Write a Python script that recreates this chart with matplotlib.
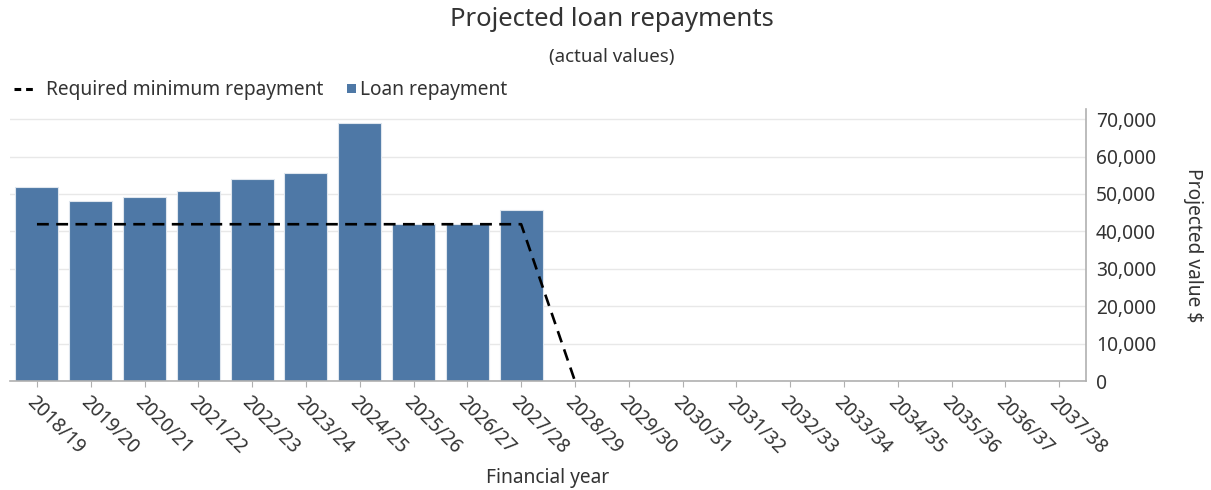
import matplotlib.pyplot as plt
import matplotlib.ticker as mticker
from matplotlib.legend_handler import HandlerPatch
from matplotlib.lines import Line2D
from matplotlib.patches import Patch, Rectangle
import numpy as np

plt.rcParams["font.family"] = ["Noto Sans", "DejaVu Sans"]

years = ["2018/19", "2019/20", "2020/21", "2021/22", "2022/23", "2023/24",
         "2024/25", "2025/26", "2026/27", "2027/28", "2028/29", "2029/30",
         "2030/31", "2031/32", "2032/33", "2033/34", "2034/35", "2035/36",
         "2036/37", "2037/38"]
loan_repayment = [51900, 48100, 49200, 50800, 54000, 55700, 69000, 41900,
                  41900, 45700, 0, 0, 0, 0, 0, 0, 0, 0, 0, 0]
required_minimum = [41900, 41900, 41900, 41900, 41900, 41900, 41900, 41900,
                    41900, 41900, 0, 0, 0, 0, 0, 0, 0, 0, 0, 0]

bar_color = "#4e78a6"
text_color = "#333333"
axis_color = "#b0b0b0"


def small_square(legend, orig_handle, xdescent, ydescent, width, height, fontsize):
    # little square swatch tucked against the label, not a full-width box
    s = 6.5
    return Rectangle((width - s - xdescent + 3.5, (height - s) / 2 - ydescent), s, s)


fig = plt.figure(figsize=(12.11, 4.9), dpi=100)
ax = fig.add_axes([0.0083, 0.2224, 0.8885, 0.5552])

x = np.arange(len(years))
ax.bar(x, loan_repayment, width=0.8, color=bar_color, edgecolor="#dfe6ee",
       linewidth=0.8, zorder=2)

# the zero stretch after the drop sits on the axis line, so leave it out
req = np.array(required_minimum, dtype=float)
flat_zero = np.r_[False, (req[1:] == 0) & (req[:-1] == 0)]
ax.plot(x, np.ma.masked_where(flat_zero, req), color="black",
        linestyle=(0, (4.5, 2.8)), linewidth=1.9, zorder=3)

ax.set_xlim(-0.5, len(years) - 0.5)
ax.set_ylim(0, 72700)
ax.set_xticks(x)
ax.set_xticklabels(years, rotation=-45, ha="left", va="top",
                   rotation_mode="anchor", fontsize=13.8, color=text_color)
ax.tick_params(axis="x", length=4, color=axis_color, pad=4)

ax.yaxis.tick_right()
ax.set_yticks(np.arange(0, 70001, 10000))
ax.yaxis.set_major_formatter(mticker.FuncFormatter(lambda v, p: f"{int(v):,}"))
ax.tick_params(axis="y", length=0, pad=7, labelsize=13.8, labelcolor=text_color)
ax.grid(axis="y", color="#e8e8e8", linewidth=1, zorder=0)
ax.set_axisbelow(True)

for side in ["top", "left"]:
    ax.spines[side].set_visible(False)
for side in ["bottom", "right"]:
    ax.spines[side].set_color(axis_color)
    ax.spines[side].set_linewidth(1.2)

fig.text(1193 / 1211, 1 - 245 / 490, "Projected value $", rotation=-90,
         ha="center", va="center", fontsize=13.8, color=text_color)
fig.text(548 / 1211, 1 - 478 / 490, "Financial year", ha="center",
         va="center", fontsize=13.8, color=text_color)

fig.text(0.505, 1 - 20 / 490, "Projected loan repayments", ha="center",
         va="center", fontsize=18.5, color=text_color)
fig.text(0.505, 1 - 57 / 490, "(actual values)", ha="center", va="center",
         fontsize=13.5, color=text_color)

handles = [Line2D([], [], color="black", linestyle=(0, (2.2, 1.6)), linewidth=2.2),
           Patch(facecolor=bar_color)]
fig.legend(handles, ["Required minimum repayment", "Loan repayment"],
           loc="center left", bbox_to_anchor=(-0.0025, 1 - 90 / 490), ncol=2,
           frameon=False, fontsize=13.8, handlelength=1.2, handleheight=0.55,
           handletextpad=0.45, columnspacing=0.25, labelcolor=text_color,
           handler_map={Patch: HandlerPatch(patch_func=small_square)})

fig.savefig("out.png", dpi=100, facecolor="white")
